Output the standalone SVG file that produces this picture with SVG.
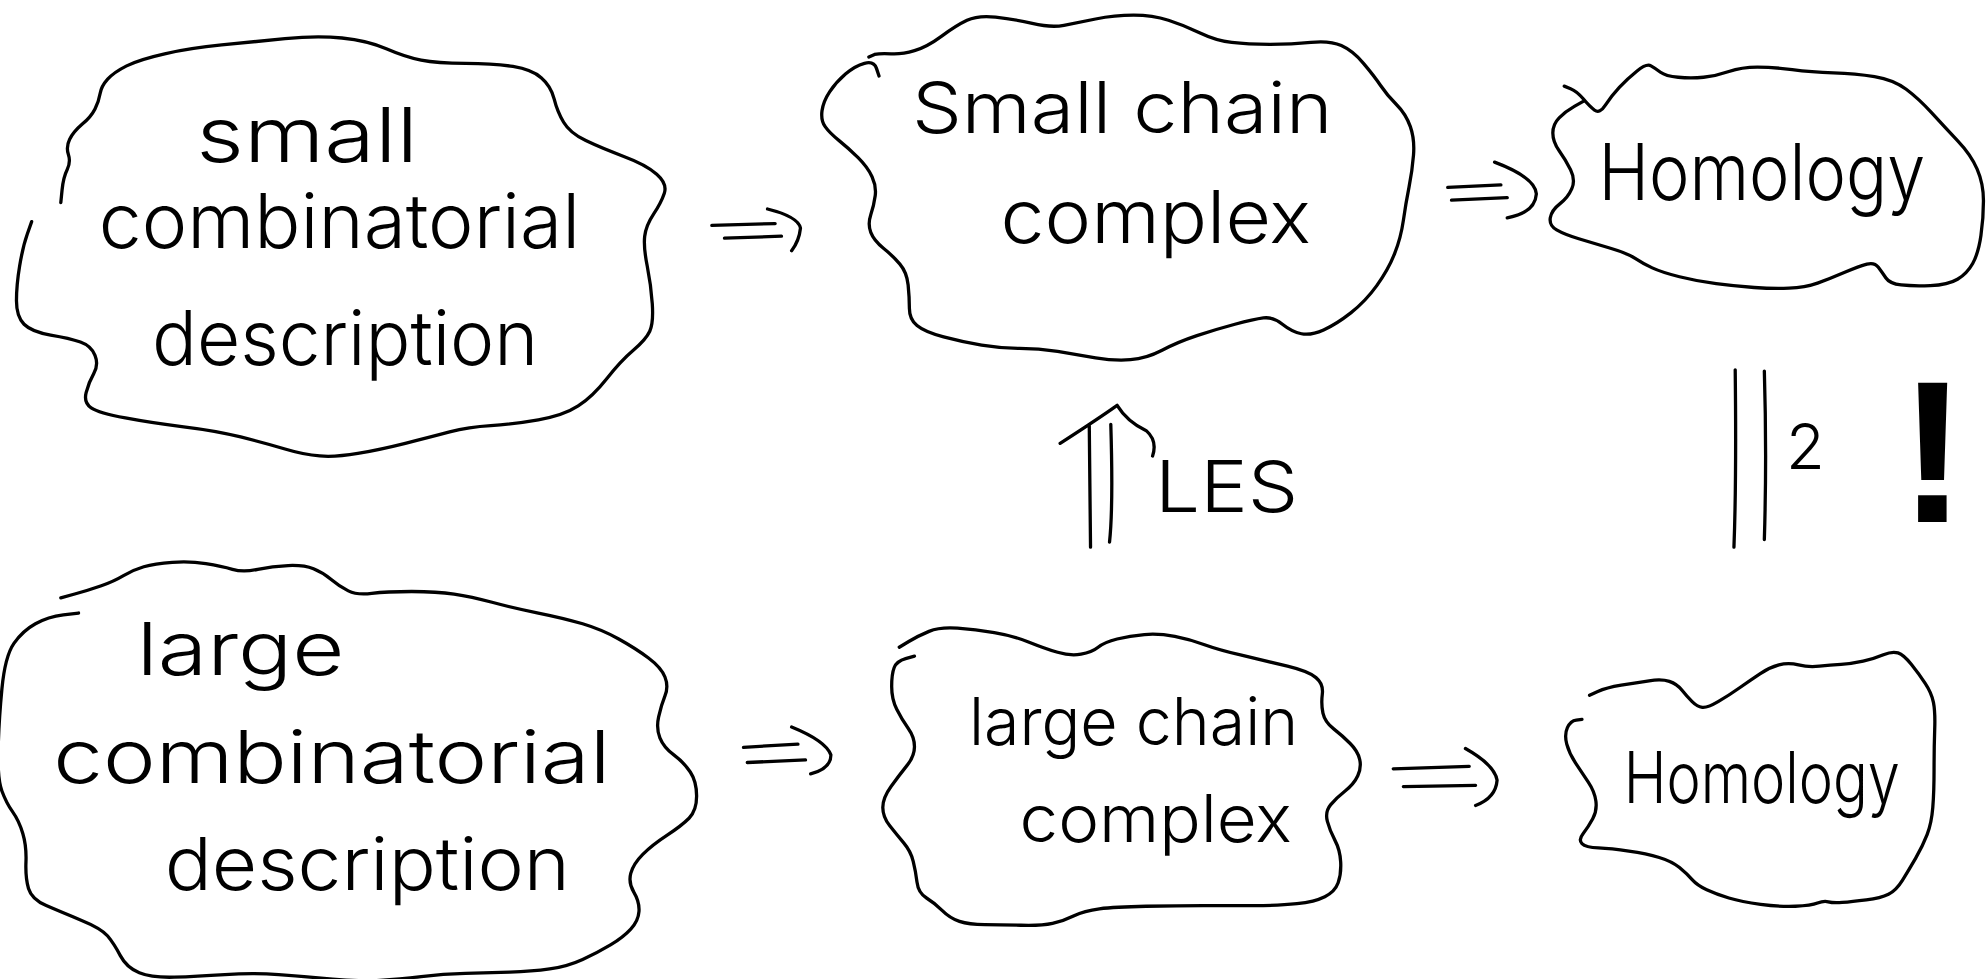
<svg xmlns="http://www.w3.org/2000/svg" width="1986" height="979" viewBox="0 0 1986 979">
<style>
.ink{fill:none;stroke:#000;stroke-width:2.6;stroke-linecap:round;stroke-linejoin:round}
.lbl{font-family:Inter,"Liberation Sans","DejaVu Sans",sans-serif;font-weight:300;fill:#000}
</style>
<rect width="1986" height="979" fill="#fff"/>
<g transform="scale(1.26658)">
<g id="node-small-comb">
<path class="ink" d="M48 160 L49 150 Q50 140 53 134 Q56 128 54 122 Q52 116 55 110 Q58 104 65 98 Q72 92 75 86 Q78 80 79 74 Q80 68 85 62.5 Q90 57 100 52 Q110 47 130 42.5 Q150 38 175 35.5 Q200 33 225 30.5 Q250 28 270 30 Q290 32 305 38.5 Q320 45 332.5 47.5 Q345 50 367.5 50 Q390 50 405 52.5 Q420 55 427.5 61.5 Q435 68 437.5 78 Q440 88 445 96.5 Q450 105 462.5 111 Q475 117 492.5 123.5 Q510 130 518.5 137.5 Q527 145 524.5 152.5 Q522 160 516 169 Q510 178 509 186.5 Q508 195 511 210 Q514 225 515 240 Q516 255 513 261.5 Q510 268 500 276.5 Q490 285 479 299 Q468 313 456.5 320.5 Q445 328 425 331.5 Q405 335 387.5 336 Q370 337 355 341 Q340 345 320 350 Q300 355 282.5 358 Q265 361 252.5 360 Q240 359 225 354.5 Q210 350 190 345 Q170 340 145 337 Q120 334 99 330 Q78 326 72 322 Q66 318 68 310 Q70 302 74 295 Q78 288 75 280.5 Q72 273 63.5 270 Q55 267 40 264.5 Q25 262 19 256 Q13 250 13 237.5 Q13 225 15.5 210 Q18 195 21.5 185 L25 175"/>
<text class="lbl" x="155" y="128" font-size="60" textLength="175" lengthAdjust="spacingAndGlyphs">small</text>
<text class="lbl" x="78" y="196" font-size="60" textLength="380" lengthAdjust="spacingAndGlyphs">combinatorial</text>
<text class="lbl" x="120" y="288" font-size="60" textLength="305" lengthAdjust="spacingAndGlyphs">description</text>
</g>
<g id="node-small-chain">
<path class="ink" d="M694 60 L692 54 Q690 48 682.5 50 Q675 52 667.5 58.5 Q660 65 655 72.5 Q650 80 649 87.5 Q648 95 651.5 100 Q655 105 662.5 111 Q670 117 677.5 124.5 Q685 132 688.5 139.5 Q692 147 691 154.5 Q690 162 687.5 169.5 Q685 177 687.5 183.5 Q690 190 697.5 196 Q705 202 710.5 208.5 Q716 215 717 225 Q718 235 718 243.5 Q718 252 724 257 Q730 262 745 266 Q760 270 775 272.5 Q790 275 805 275 Q820 275 835 277.5 Q850 280 865 282.5 Q880 285 892.5 284 Q905 283 917.5 276.5 Q930 270 945 265 Q960 260 975 256 Q990 252 997.5 251 Q1005 250 1012.5 256 Q1020 262 1027.5 263.5 Q1035 265 1045 260.5 Q1055 256 1066.5 247 Q1078 238 1087 225.5 Q1096 213 1101 200.5 Q1106 188 1108 174 Q1110 160 1112.5 147.5 Q1115 135 1116 122.5 Q1117 110 1113.5 100 Q1110 90 1102.5 82.5 Q1095 75 1090 67.5 Q1085 60 1076.5 50 Q1068 40 1059 36 Q1050 32 1035 33.5 Q1020 35 1002.5 35 Q985 35 972.5 33.5 Q960 32 947.5 26 Q935 20 922.5 16 Q910 12 895 12 Q880 12 865 15 Q850 18 840 20 Q830 22 815 18.5 Q800 15 786 13.5 Q772 12 763.5 16 Q755 20 743.5 28.5 Q732 37 722 40 Q712 43 703.5 42.5 Q695 42 690.5 43 L686 45"/>
<text class="lbl" x="720" y="105" font-size="56" textLength="332" lengthAdjust="spacingAndGlyphs">Small chain</text>
<text class="lbl" x="790" y="192" font-size="58" textLength="245" lengthAdjust="spacingAndGlyphs">complex</text>
</g>
<g id="node-homology-top">
<path class="ink" d="M1235 68 L1240 70 Q1245 72 1250 78 Q1255 84 1259 87 Q1263 90 1267.5 83 Q1272 76 1278.5 69 Q1285 62 1292.5 56 Q1300 50 1303.5 52 Q1307 54 1311 57 Q1315 60 1325 61 Q1335 62 1345 61 Q1355 60 1365 56.5 Q1375 53 1387.5 53 Q1400 53 1415 55 Q1430 57 1447.5 57.5 Q1465 58 1480 60.5 Q1495 63 1505 70.5 Q1515 78 1525 89 Q1535 100 1545.5 111 Q1556 122 1561 133.5 Q1566 145 1566 158.5 Q1566 172 1564 186 Q1562 200 1557.5 208 Q1553 216 1545.5 220.5 Q1538 225 1524 225.5 Q1510 226 1501 225 Q1492 224 1489 219.5 Q1486 215 1483 211 Q1480 207 1474 208.5 Q1468 210 1456.5 215 Q1445 220 1435 223.5 Q1425 227 1412.5 227.5 Q1400 228 1385 227 Q1370 226 1355 224 Q1340 222 1326 218.5 Q1312 215 1304.5 211.5 Q1297 208 1291 204 Q1285 200 1271.5 196 Q1258 192 1246.5 188.5 Q1235 185 1229 181.5 Q1223 178 1224 172 Q1225 166 1231.5 161 Q1238 156 1241 149 Q1244 142 1240 134 Q1236 126 1231 119 Q1226 112 1226 105 Q1226 98 1231 93 Q1236 88 1243 84 L1250 80"/>
<text class="lbl" x="1262" y="158" font-size="62" textLength="258" lengthAdjust="spacingAndGlyphs">Homology</text>
</g>
<g id="node-large-comb">
<path class="ink" d="M48 472 L59 469 Q70 466 80 462.5 Q90 459 97.5 454.5 Q105 450 113.5 447.5 Q122 445 136 444 Q150 443 162.5 445 Q175 447 183.5 449.5 Q192 452 203.5 449.5 Q215 447 227.5 446.5 Q240 446 247.5 449 Q255 452 261.5 457.5 Q268 463 275 466.5 Q282 470 293.5 468.5 Q305 467 325 467 Q345 467 358.5 469 Q372 471 388.5 475.5 Q405 480 425 484 Q445 488 460 492.5 Q475 497 488.5 504.5 Q502 512 512 519.5 Q522 527 525 534.5 Q528 542 525 549.5 Q522 557 520 566 Q518 575 521 582.5 Q524 590 532 596 Q540 602 545 609.5 Q550 617 550 628.5 Q550 640 544 646 Q538 652 526.5 659.5 Q515 667 507.5 674.5 Q500 682 498 689.5 Q496 697 500.5 704.5 Q505 712 504.5 719.5 Q504 727 498 733.5 Q492 740 482 746 Q472 752 460 757.5 Q448 763 434 765 Q420 767 402.5 767.5 Q385 768 367.5 768.5 Q350 769 332.5 771 Q315 773 300 774 Q285 775 262.5 773 Q240 771 220 769.5 Q200 768 177.5 769.5 Q155 771 137.5 771.5 Q120 772 110 768 Q100 764 95 754.5 Q90 745 85 739 Q80 733 64 726.5 Q48 720 36.5 715 Q25 710 22.5 701.5 Q20 693 20.5 680.5 Q21 668 18 658 Q15 648 10 641 Q5 634 1.5 624.5 Q-2 615 -1.5 592.5 Q-1 570 1.5 544 Q4 518 11 508 Q18 498 28 492.5 Q38 487 50 485.5 L62 484"/>
<text class="lbl" x="108" y="533" font-size="58" textLength="164" lengthAdjust="spacingAndGlyphs">large</text>
<text class="lbl" x="42" y="618" font-size="58" textLength="440" lengthAdjust="spacingAndGlyphs">combinatorial</text>
<text class="lbl" x="130" y="703" font-size="58" textLength="320" lengthAdjust="spacingAndGlyphs">description</text>
</g>
<g id="node-large-chain">
<path class="ink" d="M710 511 L717.5 506.5 Q725 502 733.5 498.5 Q742 495 756 496 Q770 497 785 499.5 Q800 502 812.5 507 Q825 512 835 515 Q845 518 853.5 516.5 Q862 515 867 511 Q872 507 882 504.5 Q892 502 903.5 501 Q915 500 927.5 502.5 Q940 505 951 509 Q962 513 981 517.5 Q1000 522 1016.5 526 Q1033 530 1039 535 Q1045 540 1044 548 Q1043 556 1044.5 563 Q1046 570 1053 575.5 Q1060 581 1066 587 Q1072 593 1073.5 599.5 Q1075 606 1072 612.5 Q1069 619 1062 624.5 Q1055 630 1050.5 635.5 Q1046 641 1048 648.5 Q1050 656 1054 663.5 Q1058 671 1058.5 680.5 Q1059 690 1056.5 697 Q1054 704 1046 708 Q1038 712 1024 713.5 Q1010 715 990 715 Q970 715 950 715 Q930 715 905 715.5 Q880 716 868 717.5 Q856 719 848 723 Q840 727 831 729 Q822 731 806 730.5 Q790 730 777.5 730 Q765 730 757.5 727.5 Q750 725 744 719 Q738 713 731.5 709 Q725 705 724 696.5 Q723 688 721 680 Q719 672 713.5 665.5 Q708 659 702.5 652 Q697 645 697 637.5 Q697 630 703.5 621 Q710 612 716 604.5 Q722 597 722 589.5 Q722 582 717 575 Q712 568 708 560 Q704 552 704 542 Q704 532 706 527 Q708 522 715 520 L722 518"/>
<text class="lbl" x="765" y="588" font-size="52" textLength="260" lengthAdjust="spacingAndGlyphs">large chain</text>
<text class="lbl" x="805" y="665" font-size="52" textLength="215" lengthAdjust="spacingAndGlyphs">complex</text>
</g>
<g id="node-homology-bottom">
<path class="ink" d="M1255 549 L1261.5 546 Q1268 543 1280 541 Q1292 539 1302 537.5 Q1312 536 1318 538 Q1324 540 1328 545 Q1332 550 1336 554 Q1340 558 1344 558.5 Q1348 559 1356.5 554 Q1365 549 1373.5 543 Q1382 537 1389.5 532 Q1397 527 1404.5 525 Q1412 523 1420 525 Q1428 527 1436.5 526 Q1445 525 1453.5 524.5 Q1462 524 1471 522 Q1480 520 1487 517 Q1494 514 1498.5 515.5 Q1503 517 1509 524.5 Q1515 532 1520 539.5 Q1525 547 1526.5 554.5 Q1528 562 1527.5 576 Q1527 590 1527 607.5 Q1527 625 1526 637.5 Q1525 650 1521.5 659 Q1518 668 1512.5 677.5 Q1507 687 1502 695 Q1497 703 1491 706 Q1485 709 1473.5 710.5 Q1462 712 1454.5 712.5 Q1447 713 1443.5 712 Q1440 711 1435 713 Q1430 715 1417.5 715.5 Q1405 716 1390 714 Q1375 712 1365 709 Q1355 706 1347.5 702.5 Q1340 699 1336 694.5 Q1332 690 1326 685 Q1320 680 1310 677 Q1300 674 1286 672 Q1272 670 1262 669.5 Q1252 669 1249 666 Q1246 663 1250 658 Q1254 653 1257.5 646.5 Q1261 640 1260 632.5 Q1259 625 1254 617.5 Q1249 610 1244 602.5 Q1239 595 1237 587.5 Q1235 580 1237.5 574.5 Q1240 569 1244.5 568.5 L1249 568"/>
<text class="lbl" x="1282" y="634" font-size="56" textLength="218" lengthAdjust="spacingAndGlyphs">Homology</text>
</g>
<g id="connectors">
<g id="arrow-1">
<path class="ink" d="M562 178 L612 176.5 M572 188 L617 186.5 M606 165 Q630 171 632 180 Q631 190 625 198"/>
</g>
<g id="arrow-2">
<path class="ink" d="M1143 148 L1185 146 M1146 158 L1190 156 M1180 128 Q1212 140 1213 153 Q1212 168 1190 172"/>
</g>
<g id="arrow-3">
<path class="ink" d="M587 590 L630 587.5 M590 602 L636 600 M625 574 Q652 585 656 596 Q656 607 640 611"/>
</g>
<g id="arrow-4">
<path class="ink" d="M1100 607 L1160 605 M1108 621 L1165 620 M1157 591 Q1180 604 1182 616 Q1181 630 1165 636"/>
</g>
<g id="arrow-les">
<path class="ink" d="M861 432 L860 335 M876 428 Q879 400 877 335 M837 350 Q868 330 882 320 Q890 333 905 340 Q914 348 910 360"/>
<text class="lbl" x="912" y="404" font-size="56" textLength="113" lengthAdjust="spacingAndGlyphs">LES</text>
</g>
<g id="iso">
<path class="ink" d="M1369 432 Q1371 380 1370 292 M1393 293 Q1395 360 1393 426"/>
<text class="lbl" x="1410" y="370" font-size="50">2</text>
</g>
</g>
<text x="1526" y="412" font-family="'Liberation Sans',sans-serif" font-weight="bold" font-size="160" text-anchor="middle" fill="#000">!</text>
</g>
</svg>
